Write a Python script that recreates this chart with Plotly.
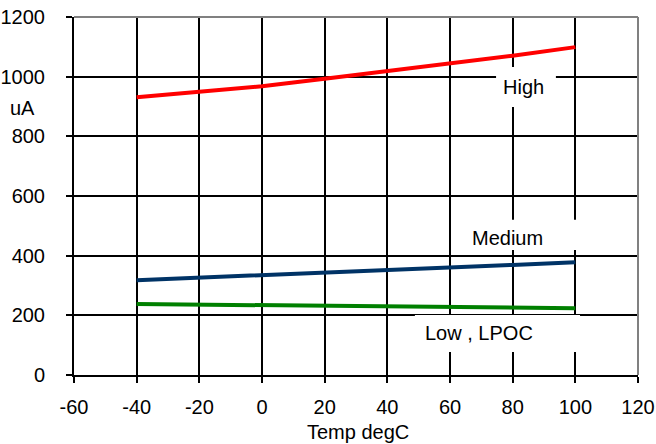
import plotly.graph_objects as go

temps = [-40, -20, 0, 20, 40, 60, 80, 100]
high = [931, 949, 968, 993, 1018, 1043, 1070, 1099]
medium = [318, 326, 334, 342, 351, 360, 369, 378]
low = [238, 236, 234, 232, 230, 228, 226, 224]

x_ticks = [-60, -40, -20, 0, 20, 40, 60, 80, 100, 120]
y_ticks = [0, 200, 400, 600, 800, 1000, 1200]

FONT = "Liberation Sans, Arial, sans-serif"

fig = go.Figure()
fig.add_trace(go.Scatter(x=temps, y=high, mode="lines", line=dict(color="#ff0000", width=4), name="High"))
fig.add_trace(go.Scatter(x=temps, y=medium, mode="lines", line=dict(color="#003366", width=4), name="Medium"))
fig.add_trace(go.Scatter(x=temps, y=low, mode="lines", line=dict(color="#008000", width=4), name="Low , LPOC"))

# label boxes (white, covering gridlines) in data coordinates
boxes = [
    (74.7, 93.8, 898, 1032),
    (61.6, 101.5, 419, 520),
    (48.8, 101.5, 77, 201),
]
shapes = []
for x0, x1, y0, y1 in boxes:
    shapes.append(dict(type="rect", xref="x", yref="y", x0=x0, x1=x1, y0=y0, y1=y1,
                       fillcolor="white", line=dict(width=0), layer="above"))
# gray top/right border
shapes.append(dict(type="line", xref="paper", yref="paper", x0=0, x1=1, y0=1, y1=1,
                   line=dict(color="#808080", width=2), layer="above"))
shapes.append(dict(type="line", xref="paper", yref="paper", x0=1, x1=1, y0=0, y1=1,
                   line=dict(color="#808080", width=2), layer="above"))

ann = dict(showarrow=False, xanchor="center", yanchor="middle")
annotations = [
    dict(x=83.6, y=965, xref="x", yref="y", text="High", **ann),
    dict(x=78.5, y=459, xref="x", yref="y", text="Medium", **ann),
    dict(x=69.2, y=141, xref="x", yref="y", text="Low , LPOC", **ann),
    dict(x=-0.092, y=0.746, xref="paper", yref="paper", text="uA", **ann),
    dict(x=0.504, y=-0.159, xref="paper", yref="paper", text="Temp degC", **ann),
]

fig.update_layout(
    width=656, height=444,
    margin=dict(l=74, r=18, t=17, b=69),
    paper_bgcolor="white", plot_bgcolor="white",
    showlegend=False,
    font=dict(family=FONT, size=20, color="black"),
    shapes=shapes,
    annotations=annotations,
)
fig.update_xaxes(range=[-60, 120], tickvals=x_ticks, ticktext=[str(v) for v in x_ticks],
                 automargin=False,
                 showgrid=True, gridcolor="black", gridwidth=2,
                 showline=True, linecolor="black", linewidth=2,
                 ticks="outside", ticklen=6, tickwidth=2, tickcolor="black",
                 ticklabelstandoff=7, zeroline=False)
fig.update_yaxes(range=[0, 1200], tickvals=y_ticks, ticktext=[str(v) for v in y_ticks],
                 automargin=False,
                 showgrid=True, gridcolor="black", gridwidth=2,
                 showline=True, linecolor="black", linewidth=2,
                 ticks="outside", ticklen=6, tickwidth=2, tickcolor="black",
                 ticklabelstandoff=17, zeroline=False)

fig.write_html("out.html", config={"displayModeBar": False},
               post_script="document.body.style.margin='0';document.body.style.overflow='hidden';")
